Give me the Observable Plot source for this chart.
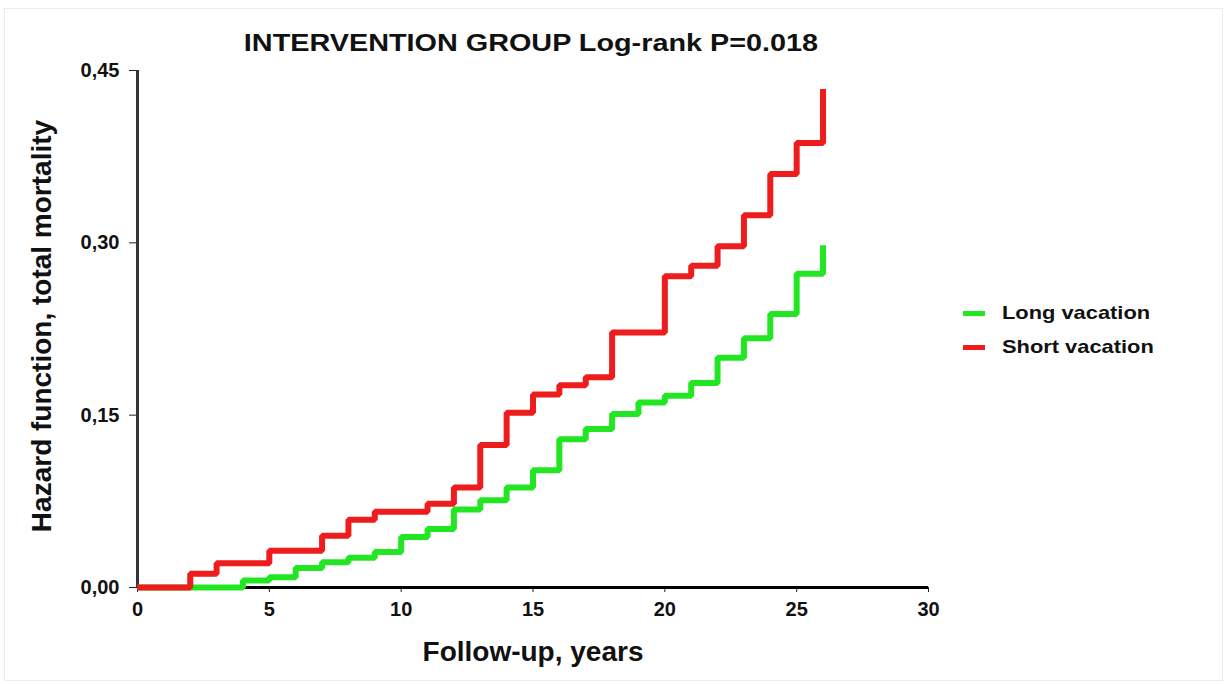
<!DOCTYPE html>
<html>
<head>
<meta charset="utf-8">
<script src="https://cdn.jsdelivr.net/npm/d3@7"></script>
<script src="https://cdn.jsdelivr.net/npm/@observablehq/plot@0.6"></script>
<style>
  html, body { margin: 0; padding: 0; background: #fff; }
  #wrap { position: relative; width: 1225px; height: 684px; overflow: hidden; font-family: "Liberation Sans", Arial, sans-serif; font-weight: bold; color: #111; }
  #frame { position: absolute; left: 4px; top: 8px; width: 1217px; height: 671px; border: 1px solid #ececec; pointer-events: none; }
  #chart { position: absolute; left: 0; top: 0; }
  .txt { position: absolute; white-space: nowrap; line-height: 1; }
  #title { left: 531px; top: 31px; font-size: 24px; transform: translateX(-50%) scaleX(1.2); }
  #xlabel { left: 533px; top: 638px; font-size: 28px; transform: translateX(-50%); }
  #ylabel { left: 42px; top: 326px; font-size: 28px; transform: translate(-50%, -50%) rotate(-90deg); }
  .leg { position: absolute; left: 963px; height: 20px; }
  .leg .sw { position: absolute; left: 0; top: 8px; width: 22px; height: 5px; }
  .leg .lt { position: absolute; left: 39px; top: 0; font-size: 19px; line-height: 20px; transform: scaleX(1.15); transform-origin: left center; white-space: nowrap; }
</style>
</head>
<body>
<div id="wrap">
  <div id="frame"></div>
  <div id="chart"></div>
  <div id="title" class="txt"></div>
  <div id="xlabel" class="txt"></div>
  <div id="ylabel" class="txt"></div>
  <div id="legend"></div>
</div>
<script>
// ---- data ----
const titleText = "INTERVENTION GROUP Log-rank P=0.018";
const xLabelText = "Follow-up, years";
const yLabelText = "Hazard function, total mortality";
const seriesNames = ["Long vacation", "Short vacation"];
const seriesColors = ["#22e622", "#ee1c1c"];

const xTicks = [0, 5, 10, 15, 20, 25, 30];
const yTicks = [0, 0.15, 0.30, 0.45];

// step points (time of step, hazard after step)
const longX = [0, 4, 5, 6, 7, 8, 9, 10, 11, 12, 13, 14, 15, 16, 17, 18, 19, 20, 21, 22, 23, 24, 25, 26];
const longY = [0, 0.006, 0.009, 0.017, 0.022, 0.026, 0.031, 0.044, 0.051, 0.068, 0.076, 0.087, 0.102, 0.129, 0.138, 0.151, 0.161, 0.167, 0.178, 0.200, 0.217, 0.238, 0.273, 0.298];

const shortX = [0, 2, 3, 5, 7, 8, 9, 11, 12, 13, 14, 15, 16, 17, 18, 20, 21, 22, 23, 24, 25, 26];
const shortY = [0, 0.012, 0.021, 0.032, 0.045, 0.059, 0.066, 0.073, 0.087, 0.124, 0.152, 0.168, 0.176, 0.183, 0.222, 0.271, 0.280, 0.297, 0.324, 0.360, 0.387, 0.434];

// ---- build ----
const longData = longX.map((x, i) => ({x, y: longY[i]}));
const shortData = shortX.map((x, i) => ({x, y: shortY[i]}));
const fmt = d => d.toFixed(2).replace(".", ",");

const chart = Plot.plot({
  width: 1225,
  height: 684,
  marginLeft: 137,
  marginRight: 297,
  marginTop: 70,
  marginBottom: 97,
  x: {domain: [0, 30]},
  y: {domain: [0, 0.45]},
  style: {fontFamily: "'Liberation Sans', Arial, sans-serif", fontWeight: "bold", fontSize: "20px", color: "#111", background: "transparent", overflow: "visible"},
  marks: [
    Plot.axisX({ticks: xTicks, tickSize: 5, tickPadding: 9, label: null, fontSize: 20, stroke: "#222"}),
    Plot.axisY({ticks: yTicks, tickSize: 8, tickPadding: 10, tickFormat: fmt, label: null, fontSize: 20, stroke: "#222"}),
    Plot.ruleX([0], {y1: 0, y2: 0.45, stroke: "#333", strokeWidth: 3}),
    Plot.ruleY([0], {x1: 0, x2: 30, stroke: "#000", strokeWidth: 3}),
    Plot.line(longData, {x: "x", y: "y", curve: "step-after", stroke: seriesColors[0], strokeWidth: 6, strokeLinejoin: "miter", strokeLinecap: "butt"}),
    Plot.line(shortData, {x: "x", y: "y", curve: "step-after", stroke: seriesColors[1], strokeWidth: 6, strokeLinejoin: "miter", strokeLinecap: "butt"})
  ]
});
document.getElementById("chart").appendChild(chart);

document.getElementById("title").textContent = titleText;
document.getElementById("xlabel").textContent = xLabelText;
document.getElementById("ylabel").textContent = yLabelText;

const legend = document.getElementById("legend");
const legendTops = [303, 337];
seriesNames.forEach((name, i) => {
  const item = document.createElement("div");
  item.className = "leg";
  item.style.top = legendTops[i] + "px";
  const sw = document.createElement("div");
  sw.className = "sw";
  sw.style.background = seriesColors[i];
  const lt = document.createElement("div");
  lt.className = "lt";
  lt.textContent = name;
  item.appendChild(sw);
  item.appendChild(lt);
  legend.appendChild(item);
});
</script>
</body>
</html>
